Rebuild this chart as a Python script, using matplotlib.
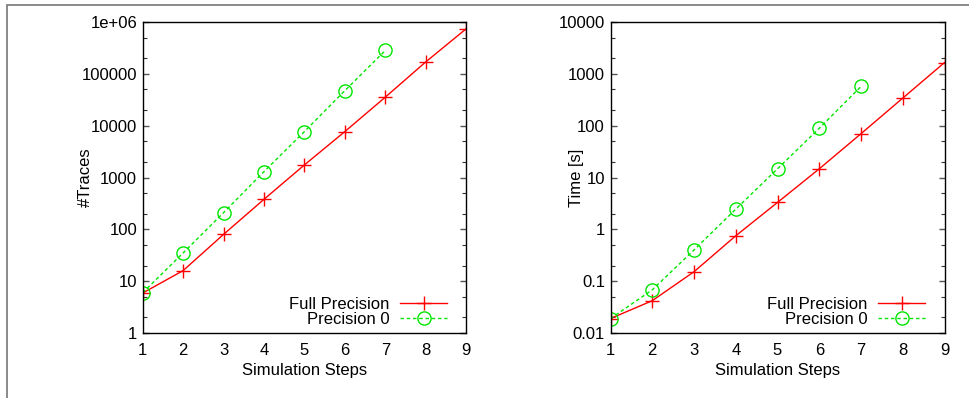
import matplotlib
matplotlib.use('Agg')
import matplotlib.pyplot as plt
from matplotlib.ticker import LogLocator, NullFormatter
from matplotlib.patches import Rectangle

plt.rcParams['font.family'] = ['Liberation Sans', 'DejaVu Sans']
plt.rcParams['font.size'] = 12

steps_full = [1, 2, 3, 4, 5, 6, 7, 8, 9]
steps_p0 = [1, 2, 3, 4, 5, 6, 7]

traces_full = [5.9, 16, 80, 380, 1750, 7700, 35500, 170000, 740000]
traces_p0 = [6, 35, 210, 1300, 7700, 47500, 282000]

time_full = [0.019, 0.042, 0.152, 0.75, 3.3, 14.7, 70, 340, 1650]
time_p0 = [0.019, 0.068, 0.40, 2.45, 14.7, 89, 570]

traces_ticks = [1, 10, 100, 1000, 10000, 100000, 1e6]
traces_labels = ['1', '10', '100', '1000', '10000', '100000', '1e+06']
time_ticks = [0.01, 0.1, 1, 10, 100, 1000, 10000]
time_labels = ['0.01', '0.1', '1', '10', '100', '1000', '10000']

RED = '#ff0000'
GREEN = '#00e600'


def draw_panel(ax, full, p0, ticks, labels, ylabel, label_x):
    ax.plot(steps_full, full, color=RED, lw=1.0, marker='+', ms=9.5, mew=1.0,
            label='Full Precision')
    ax.plot(steps_p0, p0, color=GREEN, lw=1.0, ls=(0, (2.5, 2)), marker='o',
            ms=9.5, mfc='none', mew=1.0, label='Precision 0')
    ax.set_yscale('log')
    ax.set_xlim(1, 9)
    ax.set_ylim(ticks[0], ticks[-1])
    ax.set_xticks(steps_full)
    ax.set_yticks(ticks)
    ax.set_yticklabels(labels)
    ax.yaxis.set_minor_locator(LogLocator(base=10, subs=(2, 5)))
    ax.yaxis.set_minor_formatter(NullFormatter())
    ax.tick_params(axis='y', which='major', direction='in', right=True,
                   length=4, width=1, color='#555555', pad=4)
    ax.tick_params(axis='y', which='minor', direction='in', right=True,
                   length=3, width=0.8, color='#333333')
    ax.tick_params(axis='x', length=0, pad=7)
    for s in ax.spines.values():
        s.set_linewidth(1.0)
    ax.set_xlabel('Simulation Steps', labelpad=4)
    ax.set_ylabel(ylabel)
    ax.yaxis.set_label_coords(label_x, 0.5)
    ax.legend(loc='lower right', bbox_to_anchor=(0.977, -0.018), frameon=False,
              markerfirst=False, handlelength=2.8, handletextpad=0.65,
              labelspacing=0.0, borderpad=0.2)


fig = plt.figure(figsize=(9.69, 3.98), dpi=100)
ax1 = fig.add_axes([142.7 / 969, 1 - 333 / 398, 323.5 / 969, 311 / 398])
ax2 = fig.add_axes([610.5 / 969, 1 - 333 / 398, 334 / 969, 311 / 398])

draw_panel(ax1, traces_full, traces_p0, traces_ticks, traces_labels,
           '#Traces', -0.154)
draw_panel(ax2, time_full, time_p0, time_ticks, time_labels,
           'Time [s]', -0.079)

# thin frame remnant along top and left edge
fig.add_artist(Rectangle((7 / 969, -0.1), 1.2, 1 - 4.5 / 398 + 0.1,
                         transform=fig.transFigure, fill=False,
                         edgecolor='#777777', lw=1.2))

fig.savefig('out.png', dpi=100)
